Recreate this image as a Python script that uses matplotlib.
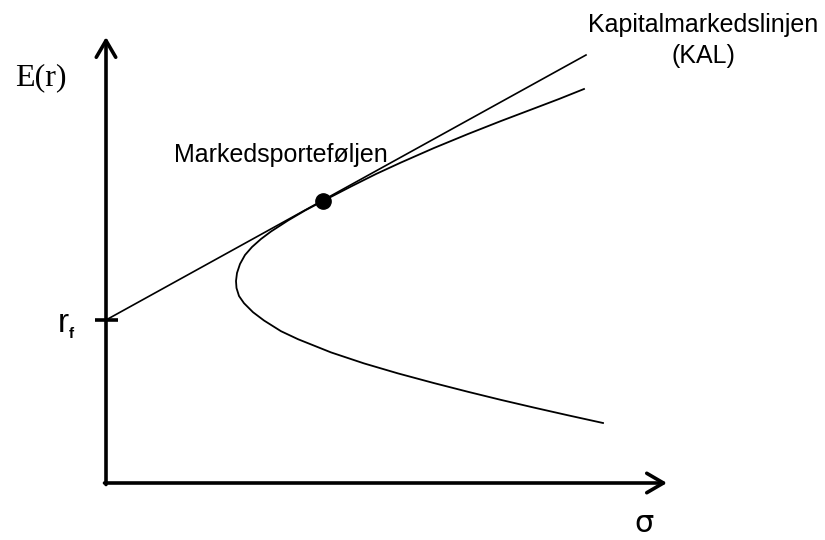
import matplotlib.pyplot as plt

# Efficient frontier (sigma, E(r)), arbitrary units
frontier_sigma = [497, 462, 428, 395, 362, 328, 292, 258, 225, 192, 175,
                  158, 147, 138, 133, 130.5, 130, 131, 134, 139, 146, 155,
                  165, 182, 199, 217, 245, 270, 295, 328, 362, 395, 428,
                  453, 478]
frontier_er = [60, 67.7, 75.4, 83.1, 91.2, 99.9, 109.6, 119.6, 130.6, 143.8,
               151.8, 162.5, 170.8, 179.8, 187, 195, 202, 210, 219, 228,
               236, 244, 251.5, 262.5, 272.5, 282, 296.5, 309, 320.5, 335,
               349, 362, 374.5, 384, 394]

# Capital market line
rf = 163
kal_sigma = [0, 480]
kal_er = [rf, 428]

# Market portfolio (tangency point)
market_sigma = 217
market_er = 282

x_max = 561
y_max = 446

fig = plt.figure(figsize=(8.25, 5.4), dpi=100)
ax = fig.add_axes([0, 0, 1, 1])
ax.set_xlim(-106, 719)
ax.set_ylim(-57, 483)
ax.axis('off')

# axes with open arrow heads
arrow = dict(arrowstyle='->,head_length=0.6,head_width=0.35', lw=2.6,
             color='black', mutation_scale=20, shrinkA=0, shrinkB=0)
ax.annotate('', xy=(0, y_max), xytext=(0, -1.5), arrowprops=arrow)
ax.annotate('', xy=(x_max, 0), xytext=(-1.5, 0), arrowprops=arrow)

# r_f tick
ax.plot([-11, 12], [rf, rf], color='black', lw=2.6, solid_capstyle='butt')

ax.plot(kal_sigma, kal_er, color='black', lw=1.2)
ax.plot(frontier_sigma, frontier_er, color='black', lw=1.3,
        solid_joinstyle='round')
ax.plot(market_sigma, market_er, 'o', color='black', markersize=11)

ax.text(-65, 405, 'E(r)', fontsize=23, family='Liberation Serif',
        ha='center', va='center')
ax.text(-43, 160, 'r', fontsize=24, family='Liberation Sans',
        ha='center', va='center')
ax.text(-35, 149, 'f', fontsize=11, family='Liberation Sans',
        weight='bold', ha='center', va='center')
ax.text(538, -40, 'σ', fontsize=22, family='DejaVu Sans',
        ha='center', va='center')

ax.text(68, 321, 'Markedsporteføljen', fontsize=18, family='Liberation Sans',
        va='baseline', ha='left')
ax.text(597, 451, 'Kapitalmarkedslinjen', fontsize=18,
        family='Liberation Sans', va='baseline', ha='center')
ax.text(597, 420, '(KAL)', fontsize=18, family='Liberation Sans',
        va='baseline', ha='center')

plt.savefig('out.png', dpi=100)
